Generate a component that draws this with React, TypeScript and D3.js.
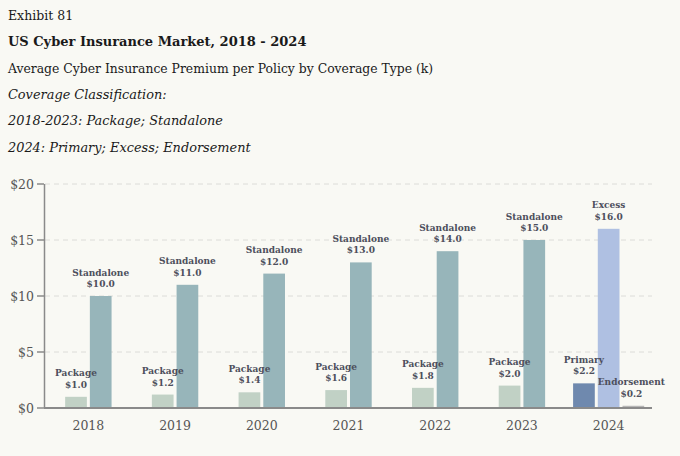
import React from "react";
import * as d3 from "d3";

const years = ["2018", "2019", "2020", "2021", "2022", "2023", "2024"];
const packageValues = [1.0, 1.2, 1.4, 1.6, 1.8, 2.0];
const standaloneValues = [10.0, 11.0, 12.0, 13.0, 14.0, 15.0];
const types2024 = ["Primary", "Excess", "Endorsement"];
const values2024 = [2.2, 16.0, 0.2];
const yTicks = [0, 5, 10, 15, 20];
const headerLines = [
  "Exhibit 81",
  "US Cyber Insurance Market, 2018 - 2024",
  "Average Cyber Insurance Premium per Policy by Coverage Type (k)",
  "Coverage Classification:",
  "2018-2023: Package; Standalone",
  "2024: Primary; Excess; Endorsement",
];

const colors: Record<string, string> = {
  Package: "#c1d1c5",
  Standalone: "#97b5ba",
  Primary: "#6f89ae",
  Excess: "#afc0e2",
  Endorsement: "#b6b6b6",
};

const W = 680;
const H = 456;
const FONT = "'DejaVu Serif', Georgia, serif";

type Bar = { year: string; name: string; value: number };

const groups: { year: string; bars: Bar[] }[] = years.map((y, i) =>
  i < packageValues.length
    ? {
        year: y,
        bars: [
          { year: y, name: "Package", value: packageValues[i] },
          { year: y, name: "Standalone", value: standaloneValues[i] },
        ],
      }
    : {
        year: y,
        bars: types2024.map((t, j) => ({ year: y, name: t, value: values2024[j] })),
      }
);

export default function App() {
  const x = d3.scaleBand<string>().domain(years).range([45, 652]).padding(0);
  const y = d3.scaleLinear().domain([0, 20]).range([408, 184]);
  const slot = 24.7;
  const barW = 21.7;

  const headerStyles = [
    { size: 12.5, weight: "normal", style: "normal", y: 20 },
    { size: 13, weight: "bold", style: "normal", y: 46 },
    { size: 12.4, weight: "normal", style: "normal", y: 73 },
    { size: 12.9, weight: "normal", style: "italic", y: 99 },
    { size: 12.9, weight: "normal", style: "italic", y: 125 },
    { size: 12.9, weight: "normal", style: "italic", y: 152 },
  ];

  return (
    <div style={{ position: "absolute", left: 0, top: 0 }}>
      <svg width={W} height={H} style={{ display: "block", background: "#f9f9f4" }}>
        <rect x={0} y={0} width={W} height={H} fill="#f9f9f4" />
        {headerLines.map((t, i) => (
          <text
            key={i}
            x={8}
            y={headerStyles[i].y}
            fontFamily={FONT}
            fontSize={headerStyles[i].size}
            fontWeight={headerStyles[i].weight}
            fontStyle={headerStyles[i].style}
            fill="#1a1a1a"
          >
            {t}
          </text>
        ))}
        {/* gridlines */}
        {yTicks.filter((t) => t > 0).map((t) => (
          <line
            key={t}
            x1={45}
            x2={652}
            y1={y(t)}
            y2={y(t)}
            stroke="#dcdcd8"
            strokeWidth={1}
            strokeDasharray="5,4"
          />
        ))}
        {/* bars */}
        {groups.map((g) => {
          const c = (x(g.year) as number) + x.bandwidth() / 2;
          const n = g.bars.length;
          return g.bars.map((b, j) => {
            const bc = c - (n * slot) / 2 + slot * (j + 0.5);
            return (
              <rect
                key={g.year + b.name}
                x={bc - barW / 2}
                y={y(b.value)}
                width={barW}
                height={y(0) - y(b.value)}
                fill={colors[b.name]}
              />
            );
          });
        })}
        {/* labels */}
        {groups.map((g) => {
          const c = (x(g.year) as number) + x.bandwidth() / 2;
          const n = g.bars.length;
          return g.bars.map((b, j) => {
            const bc = c - (n * slot) / 2 + slot * (j + 0.5);
            const top = y(b.value);
            const lx = b.name === "Endorsement" ? bc - 2 : bc;
            return (
              <g key={"l" + g.year + b.name} fontFamily={FONT} fontWeight="bold" fontSize={9} fill="#4d4f5c" textAnchor="middle">
                <text x={lx} y={top - 20.5}>{b.name}</text>
                <text x={lx} y={top - 9}>{"$" + b.value.toFixed(1)}</text>
              </g>
            );
          });
        })}
        {/* y axis */}
        <line x1={44.5} x2={44.5} y1={184} y2={408} stroke="#8a8a8a" strokeWidth={1.5} />
        {yTicks.map((t) => (
          <g key={"t" + t}>
            <line x1={37} x2={44} y1={y(t)} y2={y(t)} stroke="#8a8a8a" strokeWidth={1.5} />
            <text x={34} y={y(t) + 4.5} textAnchor="end" fontFamily={FONT} fontSize={12.5} fill="#555">
              {"$" + t}
            </text>
          </g>
        ))}
        {/* x axis */}
        <line x1={44} x2={652} y1={408} y2={408} stroke="#8a8a8a" strokeWidth={2} />
        {years.map((yr) => (
          <text
            key={"x" + yr}
            x={(x(yr) as number) + x.bandwidth() / 2}
            y={430}
            textAnchor="middle"
            fontFamily={FONT}
            fontSize={12.5}
            fill="#555"
          >
            {yr}
          </text>
        ))}
      </svg>
    </div>
  );
}
